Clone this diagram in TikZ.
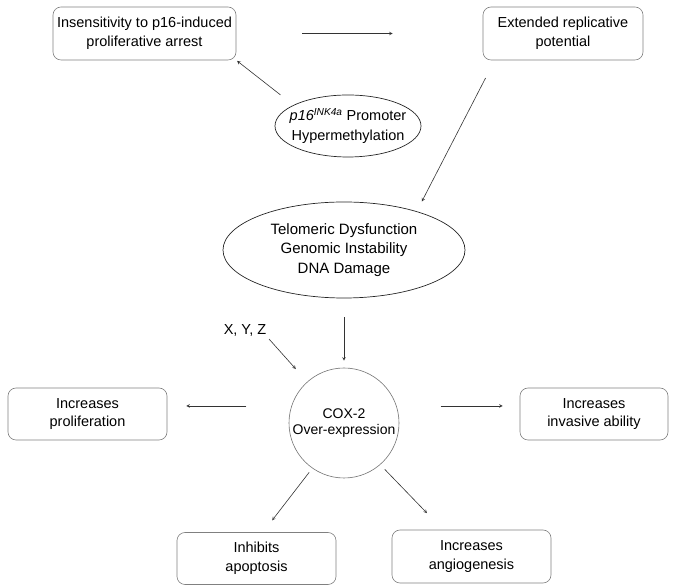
\documentclass[tikz,border=0pt]{standalone}
\usepackage{fontspec}
\setmainfont{Liberation Sans}
\usepackage{tikz}
\usetikzlibrary{arrows,calc}
\usetikzlibrary{shapes.geometric}

\begin{document}
\begin{tikzpicture}[x=1pt,y=1pt,>=stealth,
    every node/.style={font=\fontsize{14.5}{18.5}\selectfont,align=center},
    box/.style={draw=black!50,line width=0.6pt,rounded corners=8pt,minimum width=#1,minimum height=53pt,inner sep=0pt},
    oval/.style={ellipse,draw=black!85,line width=0.7pt,inner sep=-20pt},
    hub/.style={circle,draw=black!55,line width=0.6pt,minimum size=110pt,inner sep=0pt,font=\fontsize{14}{16}\selectfont},
    link/.style={->,draw=black!80,line width=0.6pt}]
    \useasboundingbox (0,0) rectangle (675,586);
    \node[box=183pt] (ins) at (144.5,552.5) {Insensitivity to p16-induced\\proliferative arrest};
    \node[box=160pt] (ext) at (563,552.5) {Extended replicative\\potential};
    \node[oval,minimum width=146pt,minimum height=62pt,font=\fontsize{14.5}{20}\selectfont] (p16) at (348,460) {\textit{p16}\textsuperscript{\textit{INK4a}} Promoter\\Hypermethylation};
    \node[oval,minimum width=242pt,minimum height=96pt,font=\fontsize{15}{19.5}\selectfont] (tel) at (344,336) {Telomeric Dysfunction\\Genomic Instability\\DNA Damage};
    \node[hub] (cox) at (344,163) {COX-2\\Over-expression};
    \node[inner sep=0pt] (xyz) at (245,256) {X, Y, Z};
    \node[box=159pt,minimum height=52pt] (pro) at (87.5,172) {Increases\\proliferation};
    \node[box=148pt,minimum height=52pt] (inv) at (594,172) {Increases\\invasive ability};
    \node[box=159pt,minimum height=52pt] (apo) at (256.5,27.5) {Inhibits\\apoptosis};
    \node[box=159pt] (ang) at (471.5,29.5) {Increases\\angiogenesis};

    \draw[link,shorten <=66pt,shorten >=90pt] (ins.east) -- (ext.west);
    \draw[link,shorten <=16.5pt,shorten >=1pt] (p16.159) -- (ins.south east);
    \draw[link,shorten <=20pt,shorten >=11pt] ([xshift=12pt]ext.south west) -- (tel.28);
    \draw[link,shorten <=19pt,shorten >=7pt] (tel.south) -- (cox.north);
    \draw[link,shorten <=4pt,shorten >=17pt] (xyz.south east) -- (cox);
    \draw[link,shorten <=45pt,shorten >=19pt] (cox.162) -- (cox.162 -| pro.east);
    \draw[link,shorten <=44pt,shorten >=17pt] (cox.18) -- (cox.18 -| inv.west);
    \draw[link,shorten <=5pt,shorten >=15pt] (cox.235) -- ([xshift=6.5pt]apo.north);
    \draw[link,shorten <=6.5pt,shorten >=23pt] (cox.311) -- ([xshift=-28.5pt]ang.north);
\end{tikzpicture}
\end{document}
